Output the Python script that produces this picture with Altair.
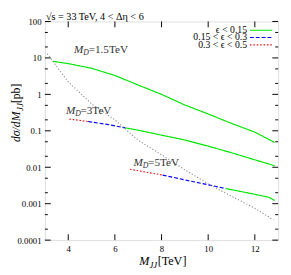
import altair as alt
import pandas as pd

FONT = "Liberation Serif"

# ---- data ----
cats = ["ϵ < 0.15", "0.15 < ϵ < 0.3", "0.3 < ϵ < 0.5"]
colors = ["#00e600", "#0000ff", "#ff0000"]

md15_green_x = [3.33, 4.0, 5.0, 6.0, 7.0, 8.0, 9.0, 10.0, 11.0, 12.0, 12.85]
md15_green_y = [8.1, 7.0, 5.2, 3.3, 1.8, 1.0, 0.51, 0.29, 0.16, 0.092, 0.048]

md3_red_x = [4.05, 4.45, 4.85]
md3_red_y = [0.21, 0.195, 0.18]
md3_blue_x = [4.85, 5.67, 6.45]
md3_blue_y = [0.18, 0.15, 0.12]
md3_green_x = [6.45, 7.0, 8.0, 9.0, 10.0, 11.0, 12.0, 12.85]
md3_green_y = [0.12, 0.104, 0.076, 0.056, 0.038, 0.025, 0.016, 0.011]

md5_red_x = [6.65, 7.3, 8.05]
md5_red_y = [0.0088, 0.0074, 0.0061]
md5_blue_x = [8.05, 9.0, 10.0, 10.75]
md5_blue_y = [0.0061, 0.0045, 0.0033, 0.0026]
md5_green_x = [10.75, 11.5, 12.2, 12.6, 12.85]
md5_green_y = [0.0026, 0.0021, 0.0017, 0.0015, 0.00123]

gray_x = [3.1, 4.0, 5.0, 6.0, 7.0, 8.0, 9.0, 10.0, 11.0, 12.0, 12.8]
gray_y = [13, 2.2, 0.55, 0.2, 0.055, 0.022, 0.0085, 0.0035, 0.0016, 0.00075, 0.00036]

ann_md = ["1.5", "3", "5"]
ann_x = [4.25, 3.9, 6.8]
ann_y = [16.3, 0.34, 0.0132]

x_ticks = [4, 6, 8, 10, 12]
y_ticks = [0.0001, 0.001, 0.01, 0.1, 1, 10, 100]
y_minor = [m * t for t in y_ticks[:-1] for m in (2, 5)]

# ---- build tables ----
def seg(xs, ys, md, cat):
    return pd.DataFrame({"x": xs, "y": ys, "md": md, "cat": cat})

curves = pd.concat([
    seg(md15_green_x, md15_green_y, "1.5", cats[0]),
    seg(md3_red_x, md3_red_y, "3", cats[2]),
    seg(md3_blue_x, md3_blue_y, "3", cats[1]),
    seg(md3_green_x, md3_green_y, "3", cats[0]),
    seg(md5_red_x, md5_red_y, "5", cats[2]),
    seg(md5_blue_x, md5_blue_y, "5", cats[1]),
    seg(md5_green_x, md5_green_y, "5", cats[0]),
], ignore_index=True)
curves["grp"] = curves["md"] + "|" + curves["cat"]
gray = pd.DataFrame({"x": gray_x, "y": gray_y})
ann = pd.DataFrame({"x": ann_x, "y": ann_y, "rest": ["=" + m + "TeV" for m in ann_md]})
ann["M"] = "M"
ann["D"] = "D"

W, H = 240, 225
dashes = [[1, 0], [4, 2], [1.5, 2]]
xscale = alt.Scale(domain=[3, 13], nice=False, zero=False)
yscale = alt.Scale(type="log", domain=[0.0001, 100], nice=False)

xaxis = alt.Axis(values=x_ticks, format="d", ticks=False, domain=False, grid=False,
                 labelFont=FONT, labelFontSize=9, labelPadding=5, labelColor="black", title=None)
yaxis = alt.Axis(values=y_ticks, format="~g", ticks=False, domain=False, grid=False,
                 labelFont=FONT, labelFontSize=9, labelPadding=4, labelColor="black", title=None)

def X(field):
    return alt.X(field, scale=xscale, axis=xaxis, title=None)

def Y(field):
    return alt.Y(field, scale=yscale, axis=yaxis, title=None)

lines = alt.Chart(curves).mark_line(strokeWidth=1.2, clip=True).encode(
    x=X("x:Q"),
    y=Y("y:Q"),
    color=alt.Color("cat:N", scale=alt.Scale(domain=cats, range=colors), legend=None),
    strokeDash=alt.StrokeDash("cat:N", scale=alt.Scale(domain=cats, range=dashes), legend=None),
    detail="grp:N",
)

gray_line = alt.Chart(gray).mark_line(color="#888888", strokeWidth=1.1, strokeDash=[1.2, 2], clip=True).encode(
    x=X("x:Q"), y=Y("y:Q"),
)

# inward ticks (gnuplot style), drawn from the tick value lists
def xticks(vals, y0, y1):
    return alt.Chart(pd.DataFrame({"x": vals})).mark_rule(color="black", strokeWidth=1).encode(
        x=X("x:Q"), y=alt.value(y0), y2=alt.value(y1))

def yticks(vals, x0, x1):
    return alt.Chart(pd.DataFrame({"y": vals})).mark_rule(color="black", strokeWidth=1).encode(
        y=Y("y:Q"), x=alt.value(x0), x2=alt.value(x1))

ticks = [
    xticks(x_ticks, H, H - 6), xticks(x_ticks, 0, 6),
    yticks(y_ticks, 0, 6), yticks(y_ticks, W, W - 6),
    yticks(y_minor, 0, 3), yticks(y_minor, W, W - 3),
]

# annotations M_D = ...
def ann_part(field, dx, dy, size, italic):
    return alt.Chart(ann).mark_text(font=FONT, fontSize=size, fontStyle="italic" if italic else "normal",
                                    align="left", baseline="middle", dx=dx, dy=dy, color="#333333").encode(
        x=X("x:Q"), y=Y("y:Q"), text=alt.Text(field))

annots = [ann_part("M:N", 0, 0, 11.5, True), ann_part("D:N", 9.5, 3, 8, True), ann_part("rest:N", 15, 0, 11.5, False)]

def label(text, x, y, size, italic=False, angle=0, align="left", baseline="alphabetic"):
    return alt.Chart(pd.DataFrame({"t": [text]})).mark_text(
        font=FONT, fontSize=size, fontStyle="italic" if italic else "normal", angle=angle,
        align=align, baseline=baseline, color="black").encode(
        x=alt.value(x), y=alt.value(y), text="t:N")

texts = [
    label("√s = 33 TeV, 4 < Δη < 6", 1, -2, 10.5),
    # x title: M_JJ[TeV]
    label("M", 97, 251, 12.5, italic=True),
    label("JJ", 107.5, 254, 9, italic=True),
    label("[TeV]", 116, 251, 12.5),
    # y title: dσ/dM_JJ [pb]
    label("dσ/dM", -26, 124, 12, italic=True, angle=270),
    label("JJ", -23, 92, 9, italic=True, angle=270),
    label(" [pb]", -26, 84, 12, angle=270),
]

legend_layers = []
for i, (lab, col, dash) in enumerate(zip(cats, colors, dashes)):
    yy = 9 + 7.5 * i
    legend_layers.append(label(lab, 208, yy, 10, align="right", baseline="middle"))
    legend_layers.append(
        alt.Chart(pd.DataFrame({"c": [lab]})).mark_rule(color=col, strokeWidth=1.2, strokeDash=dash).encode(
            x=alt.value(211), x2=alt.value(234), y=alt.value(yy)))

chart = alt.layer(lines, gray_line, *ticks, *annots, *texts, *legend_layers).properties(
    width=W, height=H,
    autosize=alt.AutoSizeParams(type="none"),
    padding={"left": 38, "top": 10, "right": 5, "bottom": 32},
).configure_view(stroke="black", strokeWidth=1).configure(background="white")

chart.save("out.html", embed_options={"renderer": "svg", "actions": False})
